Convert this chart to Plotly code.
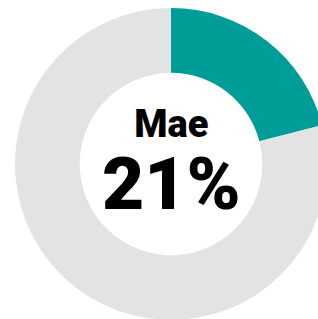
import plotly.graph_objects as go

labels = ["Mae", "Rest"]
values = [21, 79]
colors = ["#009C98", "#E3E3E3"]
title_text = "Mae"
value_text = "21%"

W, H = 342, 328

fig = go.Figure(go.Pie(
    labels=labels,
    values=values,
    hole=0.585,
    sort=False,
    direction="clockwise",
    rotation=0,
    marker=dict(colors=colors, line=dict(width=0)),
    textinfo="none",
    hoverinfo="none",
    domain=dict(x=[0, 1], y=[0.0244, 0.9756]),
    showlegend=False,
))

center_text = (f"<span style='font-size:38px'>{title_text}</span><br>"
               f"<span style='font-size:73px'>{value_text}</span>")
fig.add_annotation(text=center_text, x=0.5, y=1 - 164 / H, xref="paper", yref="paper",
                   showarrow=False, xanchor="center", yanchor="middle", align="center",
                   font=dict(family="Roboto Black, Roboto", size=55, color="#000000", weight=900))

fig.update_layout(width=W, height=H, margin=dict(l=0, r=0, t=0, b=0),
                  paper_bgcolor="white", plot_bgcolor="white")

fig.write_html("out.html", config={"displayModeBar": False},
               post_script="document.body.style.margin='0';document.body.style.overflow='hidden';document.documentElement.style.overflow='hidden';")
